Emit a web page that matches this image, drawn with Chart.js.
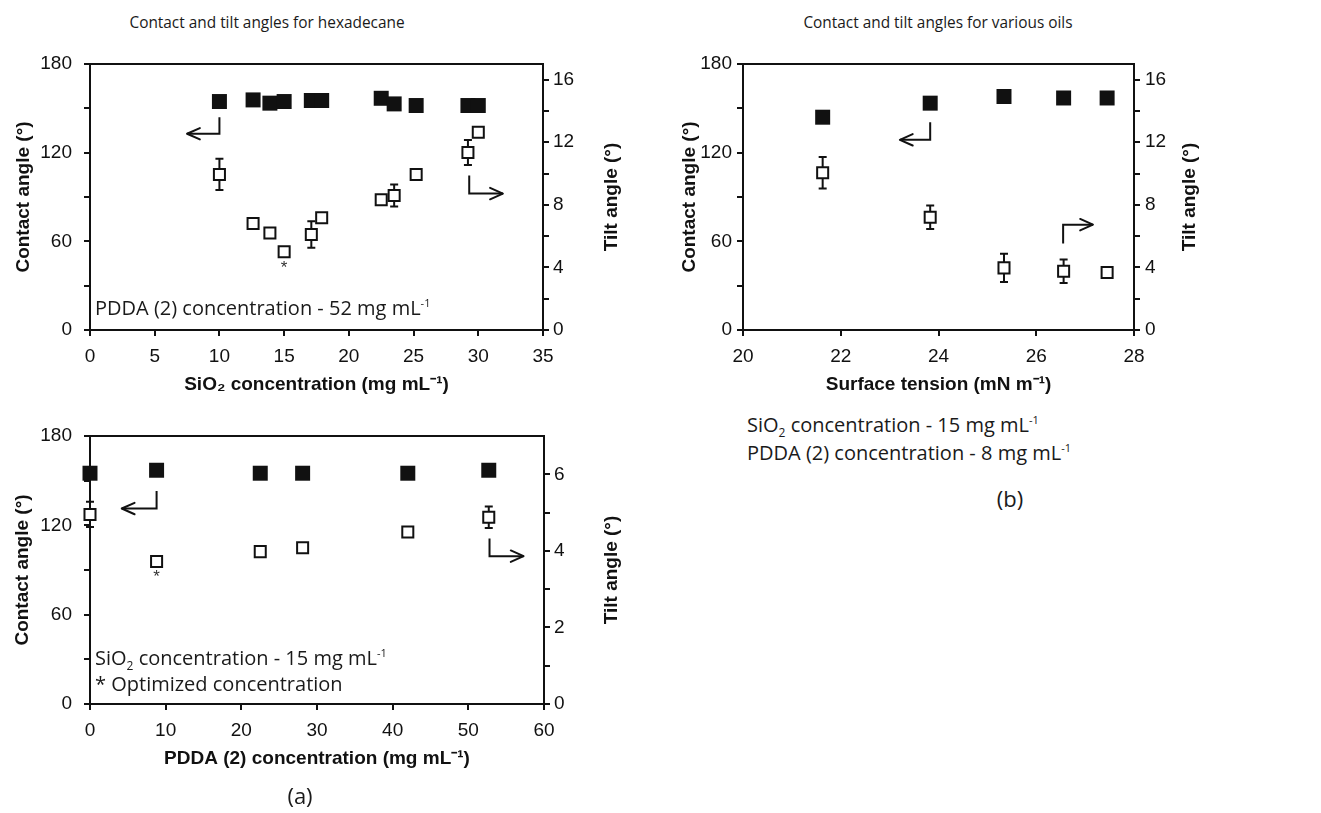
<!DOCTYPE html>
<html><head><meta charset="utf-8">
<script src="https://cdn.jsdelivr.net/npm/chart.js@4.4.0/dist/chart.umd.min.js"></script>
<style>
html,body{margin:0;padding:0;background:#fff;}
body{width:1321px;height:813px;position:relative;overflow:hidden;font-family:'Open Sans','Noto Sans',sans-serif;color:#1a1a1a;}
canvas{position:absolute;}
.txt{position:absolute;white-space:nowrap;line-height:1;}
.title{font-size:15.4px;transform:translate(-50%,-50%);}
.note{font-size:20px;transform:translateY(-50%);}
.note sup{font-size:55%;vertical-align:0.75em;line-height:0;}
.note sub{font-size:60%;vertical-align:-0.4em;line-height:0;}
.panel{font-size:22px;transform:translate(-50%,-50%);}
</style></head>
<body>
<div class="txt title" style="left:267px;top:23px">Contact and tilt angles for hexadecane</div>
<div class="txt title" style="left:938px;top:23px">Contact and tilt angles for various oils</div>

<canvas id="cA" style="left:0;top:40px" width="660" height="370"></canvas>
<canvas id="cB" style="left:0;top:412px" width="660" height="372"></canvas>
<canvas id="cC" style="left:661px;top:40px" width="660" height="370"></canvas>

<div class="txt note" style="left:95px;top:308px">PDDA (2) concentration - 52 mg mL<sup>-1</sup></div>
<div class="txt note" style="left:95px;top:658px">SiO<sub>2</sub> concentration - 15 mg mL<sup>-1</sup></div>
<div class="txt note" style="left:95px;top:684px">* Optimized concentration</div>
<div class="txt note" style="left:747px;top:425px">SiO<sub>2</sub> concentration - 15 mg mL<sup>-1</sup></div>
<div class="txt note" style="left:747px;top:453px">PDDA (2) concentration - 8 mg mL<sup>-1</sup></div>
<div class="txt panel" style="left:300px;top:795px">(a)</div>
<div class="txt panel" style="left:1010px;top:498px">(b)</div>

<script>
// ---------- Panel (a) top: SiO2 concentration ----------
const silicaConc   = [10, 12.6, 13.9, 15, 17.1, 17.9, 22.5, 23.5, 25.2, 29.2, 30];
const contactA     = [154.6, 155.7, 153.5, 154.6, 155.3, 155.3, 156.8, 153.0, 151.9, 151.9, 151.9];
const tiltA        = [9.94, 6.8, 6.2, 5.0, 6.1, 7.18, 8.33, 8.6, 9.94, 11.35, 12.64];
const tiltErrA     = [1.0, 0.2, 0.2, 0.2, 0.85, 0.2, 0.2, 0.7, 0.2, 0.8, 0.2];
const arrowLeftA   = [{x:10, y:144}, {x:10, y:132.8}, {x:7.5, y:132.8}];
const arrowRightA  = [{x:29.3, y:104.6}, {x:29.3, y:92.3}, {x:31.9, y:92.3}];
const starsA       = [{x:15, y:42}];
const silicaTicks  = [0, 5, 10, 15, 20, 25, 30, 35];

// ---------- Panel (a) bottom: PDDA concentration ----------
const pddaConc     = [0, 8.8, 22.5, 28.1, 42, 52.7];
const contactB     = [155, 157, 155, 155, 155, 157];
const tiltB        = [4.95, 3.72, 3.98, 4.08, 4.49, 4.88];
const tiltErrB     = [0.33, 0.05, 0.05, 0.12, 0.05, 0.28];
const arrowLeftB   = [{x:8.8, y:143}, {x:8.8, y:131.3}, {x:4.2, y:131.3}];
const arrowRightB  = [{x:52.8, y:111.2}, {x:52.8, y:99.3}, {x:57.3, y:99.3}];
const starsB       = [{x:8.8, y:85}];
const pddaTicks    = [0, 10, 20, 30, 40, 50, 60];
const tiltTicksB   = [0, 1, 2, 3, 4, 5, 6];

// ---------- Panel (b): surface tension ----------
const tension      = [21.63, 23.83, 25.34, 26.56, 27.45];
const contactC     = [144, 153.5, 158, 157, 157];
const tiltC        = [10.05, 7.2, 3.97, 3.76, 3.68];
const tiltErrC     = [1.0, 0.75, 0.9, 0.75, 0.15];
const arrowLeftC   = [{x:23.83, y:140.6}, {x:23.83, y:128.7}, {x:23.21, y:128.7}];
const arrowRightC  = [{x:26.55, y:58.5}, {x:26.55, y:71.3}, {x:27.16, y:71.3}];
const starsC       = [];
const tensionTicks = [20, 22, 24, 26, 28];

// shared
const contactTicks = [0, 30, 60, 90, 120, 150, 180];
const tiltTicks    = [0, 2, 4, 6, 8, 10, 12, 14, 16];

Chart.defaults.font.family = "'Liberation Sans', Arial, sans-serif";
Chart.defaults.font.size = 19;
Chart.defaults.color = '#111';

const INK = '#111';

const framePlugin = {
  id: 'frame',
  afterDraw(chart) {
    const {ctx, chartArea: a} = chart;
    ctx.save();
    ctx.strokeStyle = INK; ctx.lineWidth = 2;
    ctx.beginPath(); ctx.moveTo(a.left - 1, a.top); ctx.lineTo(a.right + 1, a.top); ctx.stroke();
    ctx.restore();
  }
};

const errPlugin = {
  id: 'errbars',
  beforeDatasetDraw(chart, args) {
    const ds = chart.data.datasets[args.index];
    if (!ds.errorBars) return;
    const meta = args.meta;
    const ys = chart.scales[ds.yAxisID];
    const ctx = chart.ctx;
    ctx.save();
    ctx.strokeStyle = INK; ctx.lineWidth = 2;
    meta.data.forEach((pt, i) => {
      const e = ds.errorBars[i];
      const v = ds.data[i].y;
      const yt = ys.getPixelForValue(v + e), yb = ys.getPixelForValue(v - e);
      ctx.beginPath();
      ctx.moveTo(pt.x, yt); ctx.lineTo(pt.x, yb);
      ctx.moveTo(pt.x - 4, yt); ctx.lineTo(pt.x + 4, yt);
      ctx.moveTo(pt.x - 4, yb); ctx.lineTo(pt.x + 4, yb);
      ctx.stroke();
    });
    ctx.restore();
  }
};

const arrowPlugin = {
  id: 'arrowheads',
  afterDatasetDraw(chart, args) {
    const ds = chart.data.datasets[args.index];
    if (!ds.arrow) return;
    const pts = args.meta.data;
    const n = pts.length;
    const p1 = pts[n - 2], p2 = pts[n - 1];
    const ang = Math.atan2(p2.y - p1.y, p2.x - p1.x);
    const L = 14, phi = 0.42;
    const ctx = chart.ctx;
    ctx.save();
    ctx.strokeStyle = INK; ctx.lineWidth = 2; ctx.lineCap = 'round'; ctx.lineJoin = 'round';
    ctx.beginPath();
    ctx.moveTo(p2.x - L * Math.cos(ang - phi), p2.y - L * Math.sin(ang - phi));
    ctx.lineTo(p2.x, p2.y);
    ctx.lineTo(p2.x - L * Math.cos(ang + phi), p2.y - L * Math.sin(ang + phi));
    ctx.stroke();
    ctx.restore();
  }
};

const starPlugin = {
  id: 'stars',
  afterDatasetsDraw(chart, args, opts) {
    const list = opts.points || [];
    const ctx = chart.ctx;
    ctx.save();
    ctx.fillStyle = '#333';
    ctx.font = "17px 'Liberation Sans', Arial, sans-serif";
    ctx.textAlign = 'center'; ctx.textBaseline = 'middle';
    list.forEach(p => {
      ctx.fillText('*', chart.scales.x.getPixelForValue(p.x), chart.scales.y.getPixelForValue(p.y));
    });
    ctx.restore();
  }
};

const rightTitlePlugin = {
  id: 'rightTitle',
  afterDraw(chart, args, opts) {
    const {ctx, chartArea: a} = chart;
    ctx.save();
    ctx.translate(a.right + opts.offset, (a.top + a.bottom) / 2);
    ctx.rotate(-Math.PI / 2);
    ctx.font = "bold 19px 'Liberation Sans', Arial, sans-serif";
    ctx.fillStyle = INK;
    ctx.textAlign = 'center'; ctx.textBaseline = 'middle';
    ctx.fillText(opts.text, 0, 0);
    ctx.restore();
  }
};

function axisLine() {
  return {
    grid: {display: true, drawOnChartArea: false, drawTicks: true, tickLength: 6, color: INK, lineWidth: 2},
    border: {display: true, color: INK, width: 2}
  };
}

function makeChart(id, p) {
  const pts = (xs, ys) => xs.map((x, i) => ({x: x, y: ys[i]}));
  const datasets = [
    {label: 'tilt', data: pts(p.xs, p.tilt), yAxisID: 'y2', order: 0, clip: false,
     errorBars: p.err, pointStyle: 'rect', pointRadius: 7.8, backgroundColor: '#fff',
     borderColor: INK, borderWidth: 2},
    {label: 'contact', data: pts(p.xs, p.contact), yAxisID: 'y', order: 1, clip: false,
     pointStyle: 'rect', pointRadius: 10.6, backgroundColor: INK, borderWidth: 0},
    {label: 'arrowL', data: p.arrowL, yAxisID: 'y', order: 2, clip: false, arrow: true,
     showLine: true, pointRadius: 0, borderColor: INK, borderWidth: 2},
    {label: 'arrowR', data: p.arrowR, yAxisID: 'y', order: 2, clip: false, arrow: true,
     showLine: true, pointRadius: 0, borderColor: INK, borderWidth: 2}
  ];
  const tickSet = arr => (s => { s.ticks = arr.map(v => ({value: v})); });
  return new Chart(document.getElementById(id), {
    type: 'scatter',
    data: {datasets},
    options: {
      responsive: false, animation: false, devicePixelRatio: 1,
      layout: {padding: {top: 24, left: 0, right: 0, bottom: 0}},
      plugins: {
        legend: {display: false}, tooltip: {enabled: false},
        rightTitle: {text: 'Tilt angle (°)', offset: p.rtOff},
        stars: {points: p.stars}
      },
      scales: {
        x: Object.assign(axisLine(), {
          type: 'linear', position: 'bottom', min: p.xTicks[0], max: p.xTicks[p.xTicks.length - 1],
          afterBuildTicks: tickSet(p.xTicks),
          ticks: {padding: 9, color: INK, maxRotation: 0, autoSkip: false},
          title: {display: true, text: p.xTitle, color: INK, font: {weight: 'bold', size: 19},
                  padding: {top: 0, bottom: 80 - 55 - 11.4}},
          afterFit: s => { s.height = 80; }
        }),
        y: Object.assign(axisLine(), {
          type: 'linear', position: 'left', min: 0, max: 180,
          afterBuildTicks: tickSet(contactTicks),
          ticks: {padding: p.yPad, color: INK, autoSkip: false,
                  callback: v => (v % 60 === 0 ? v : '')},
          title: {display: true, text: 'Contact angle (°)', color: INK, font: {weight: 'bold', size: 19},
                  padding: {top: p.yTitlePad, bottom: 0}},
          afterFit: s => { s.width = p.yW; }
        }),
        y2: Object.assign(axisLine(), {
          type: 'linear', position: 'right', min: 0, max: p.y2Max,
          afterBuildTicks: tickSet(p.y2Ticks),
          ticks: {padding: p.y2Pad, color: INK, autoSkip: false,
                  callback: v => (v % p.y2Lab === 0 ? v : '')},
          afterFit: s => { s.width = p.y2W; }
        })
      }
    },
    plugins: [framePlugin, errPlugin, arrowPlugin, starPlugin, rightTitlePlugin]
  });
}

makeChart('cA', {
  xs: silicaConc, contact: contactA, tilt: tiltA, err: tiltErrA,
  arrowL: arrowLeftA, arrowR: arrowRightA, stars: starsA,
  xTicks: silicaTicks, xTitle: 'SiO₂ concentration (mg mL⁻¹)',
  y2Max: 17, y2Ticks: tiltTicks, y2Lab: 4,
  yW: 90, y2W: 660 - 543, yPad: 12, y2Pad: 4, yTitlePad: 12.6, rtOff: 69
});
makeChart('cB', {
  xs: pddaConc, contact: contactB, tilt: tiltB, err: tiltErrB,
  arrowL: arrowLeftB, arrowR: arrowRightB, stars: starsB,
  xTicks: pddaTicks, xTitle: 'PDDA (2) concentration (mg mL⁻¹)',
  y2Max: 7, y2Ticks: tiltTicksB, y2Lab: 2,
  yW: 90, y2W: 660 - 544, yPad: 12, y2Pad: 4, yTitlePad: 11.6, rtOff: 68
});
makeChart('cC', {
  xs: tension, contact: contactC, tilt: tiltC, err: tiltErrC,
  arrowL: arrowLeftC, arrowR: arrowRightC, stars: starsC,
  xTicks: tensionTicks, xTitle: 'Surface tension (mN m⁻¹)',
  y2Max: 17, y2Ticks: tiltTicks, y2Lab: 4,
  yW: 82, y2W: 1321 - 1134, yPad: 5, y2Pad: 5, yTitlePad: 17.6, rtOff: 56
});
</script>
</body></html>
